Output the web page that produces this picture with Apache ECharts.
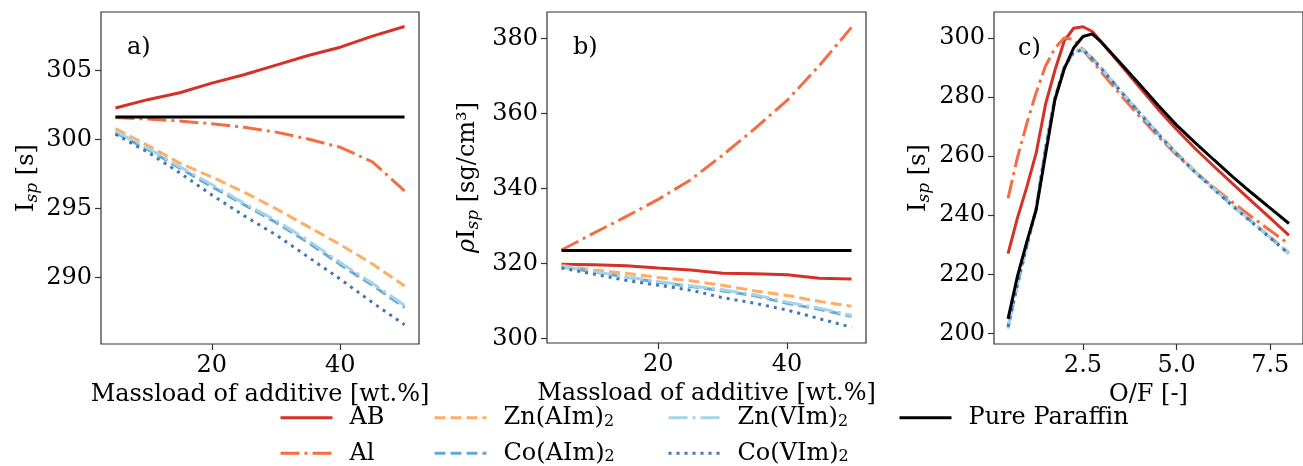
<!DOCTYPE html>
<html><head><meta charset="utf-8">
<script src="https://cdn.jsdelivr.net/npm/echarts@6/dist/echarts.min.js"></script>
<style>html,body{margin:0;padding:0;background:#fff}#c{width:1303px;height:466px}</style>
</head><body><div id="c"></div>
<script>
// ---------- data ----------
const massload = [5,10,15,20,25,30,35,40,45,50];
const ofRatio = [0.5,0.75,1.0,1.25,1.5,1.75,2.0,2.25,2.5,2.75,3.0,3.5,4.0,4.5,5.0,5.5,6.0,6.5,7.0,7.5,8.0];

const seriesNames = ['AB','Al','Zn(AIm)2','Co(AIm)2','Zn(VIm)2','Co(VIm)2','Pure Paraffin'];

// panel a: Isp vs massload
const ispAB     = [302.3,302.9,303.4,304.1,304.7,305.4,306.1,306.7,307.5,308.2];
const ispAl     = [301.6,301.5,301.35,301.15,300.9,300.55,300.05,299.45,298.4,296.3];
const ispZnAIm  = [300.8,299.6,298.3,297.3,296.2,295.0,293.7,292.4,291.0,289.4];
const ispCoAIm  = [300.5,299.3,297.95,296.6,295.3,294.0,292.55,290.95,289.45,287.85];
const ispZnVIm  = [300.6,299.4,298.05,296.75,295.4,294.15,292.7,291.1,289.6,288.0];
const ispCoVIm  = [300.4,299.1,297.6,296.0,294.5,293.1,291.5,289.9,288.2,286.6];
const ispPar    = [301.65,301.65,301.65,301.65,301.65,301.65,301.65,301.65,301.65,301.65];

// panel b: rho*Isp vs massload
const rhoAB     = [319.8,319.65,319.4,318.8,318.3,317.4,317.3,317.0,316.1,315.9];
const rhoAl     = [323.6,328.1,332.5,337.1,342.3,348.9,356.0,363.5,372.8,383.0];
const rhoZnAIm  = [319.5,318.3,317.4,316.3,315.4,314.2,312.7,311.5,309.9,308.6];
const rhoCoAIm  = [319.1,317.8,316.4,315.0,313.9,312.7,311.4,309.4,307.8,305.9];
const rhoZnVIm  = [319.2,317.9,316.5,315.2,314.1,313.0,311.7,309.7,308.1,306.2];
const rhoCoVIm  = [318.8,317.2,315.5,314.2,312.9,310.9,309.4,307.6,305.3,303.0];
const rhoPar    = [323.45,323.45,323.45,323.45,323.45,323.45,323.45,323.45,323.45,323.45];

// panel c: Isp vs O/F
const ofAB    = [227.0,239.0,249.5,261.0,277.5,289.0,299.0,303.3,303.8,302.2,298.5,291.0,283.5,276.0,269.0,262.5,256.5,250.6,244.8,239.0,233.2];
const ofAl    = [245.7,259.5,271.0,281.5,290.5,296.5,300.0,299.6,296.0,292.2,288.3,280.8,273.6,266.8,260.4,254.6,249.3,244.3,239.5,234.8,230.2];
const ofZnAIm = [202.3,216.8,229.8,242.3,262.8,279.8,290.3,295.5,296.3,293.3,289.8,282.3,275.1,267.9,261.1,254.9,249.1,243.5,238.1,232.7,227.3];
const ofCoAIm = [202.0,216.5,229.5,242.0,262.5,279.5,290.0,295.2,296.0,293.0,289.5,282.0,274.8,267.6,260.8,254.6,248.8,243.2,237.8,232.4,227.0];
const ofZnVIm = [201.6,216.3,229.4,242.0,262.6,279.6,290.1,295.3,296.1,293.1,289.6,282.1,274.9,267.7,260.9,254.7,248.9,243.3,237.9,232.5,227.0];
const ofCoVIm = [202.2,216.6,229.6,242.1,262.4,279.4,289.9,295.2,296.0,293.0,289.5,282.0,274.7,267.5,260.7,254.5,248.7,243.1,237.7,232.3,226.9];
const ofPar   = [204.9,219.3,231.0,241.8,260.5,279.0,289.5,296.6,300.5,301.4,298.5,291.5,284.5,277.3,270.5,264.5,258.7,253.0,247.6,242.4,237.2];

// tick labels
const aXTicks = [20,40];
const aYTicks = [290,295,300,305];
const bXTicks = [20,40];
const bYTicks = [300,320,340,360,380];
const cXTicks = [2.5,5.0,7.5];
const cYTicks = [200,220,240,260,280,300];

// ---------- styles ----------
const F = 'DejaVu Serif';
const colors = ['#d73027','#f46d43','#fdae61','#6aa6d6','#a3d4ea','#4575b4','#000000'];
const dashes = ['solid',[19,5,3,5],[11,5],[11,5],[19,5,3,5],[3,5],'solid'];
const panelA = [ispAB,ispAl,ispZnAIm,ispCoAIm,ispZnVIm,ispCoVIm,ispPar];
const panelB = [rhoAB,rhoAl,rhoZnAIm,rhoCoAIm,rhoZnVIm,rhoCoVIm,rhoPar];
const panelC = [ofAB,ofAl,ofZnAIm,ofCoAIm,ofZnVIm,ofCoVIm,ofPar];

const series = [];
function addPanel(xs, arrs, idx){
  arrs.forEach((arr,k)=>{
    series.push({
      name: seriesNames[k], type:'line', xAxisIndex:idx, yAxisIndex:idx,
      data: xs.map((x,i)=>[x,arr[i]]), symbol:'none', animation:false,
      color: colors[k],
      lineStyle:{color:colors[k], width:3, type:dashes[k]}, z: 2+k
    });
  });
}
addPanel(massload, panelA, 0);
addPanel(massload, panelB, 1);
addPanel(ofRatio, panelC, 2);

const txt = {fontFamily:F, fontSize:24, color:'#000'};
function xAx(idx, min, max, ticks, name, fmt){
  return {type:'value', gridIndex:idx, min, max,
    axisLine:{show:false}, splitLine:{show:false},
    axisTick:{show:true, length:6, lineStyle:{color:'#333',width:1.2}, customValues:ticks},
    axisLabel:Object.assign({margin:10, customValues:ticks, formatter: fmt || (v=>String(v))}, txt),
    name, nameLocation:'middle', nameGap:38, nameTextStyle:Object.assign({}, txt)};
}
const richY = {
  i:{fontFamily:F,fontSize:24,color:'#000',lineHeight:28},
  g:{fontFamily:F,fontSize:24,color:'#000',lineHeight:28,fontStyle:'italic'},
  sub:{fontFamily:F,fontSize:17,color:'#000',fontStyle:'italic',lineHeight:12,verticalAlign:'bottom'}
};
function yAx(idx, min, max, ticks, name, gap){
  return {type:'value', gridIndex:idx, min, max,
    axisLine:{show:false}, splitLine:{show:false},
    axisTick:{show:true, length:6, lineStyle:{color:'#333',width:1.2}, customValues:ticks},
    axisLabel:Object.assign({margin:9, customValues:ticks, formatter:v=>String(v)}, txt),
    name, nameLocation:'middle', nameGap:gap, nameTextStyle:{rich:richY}};
}
const gridStyle = {show:true, borderColor:'#333', borderWidth:1.2, backgroundColor:'transparent', containLabel:false};

const legendBase = {orient:'vertical', itemWidth:52, itemHeight:14, itemGap:11.6, padding:0,
  itemStyle:{opacity:0}, lineStyle:{width:3},
  formatter: n => n.endsWith('2') ? '{n|' + n.slice(0,-1) + '}{s|2}' : '{n|' + n + '}',
  textStyle:{fontFamily:F, fontSize:24, color:'#000', lineHeight:24, padding:[0,0,0,12],
    rich:{
      n:{fontFamily:F, fontSize:24, color:'#000', lineHeight:24},
      s:{fontFamily:F, fontSize:16, color:'#000', lineHeight:10, verticalAlign:'bottom'}
    }},
  top:405.7};

const option = {
  backgroundColor:'#fff',
  animation:false,
  title:[
    {text:'a)', left:127, top:36, padding:0, textStyle:{fontFamily:F,fontSize:24,fontWeight:'normal',color:'#000'}},
    {text:'b)', left:573, top:36, padding:0, textStyle:{fontFamily:F,fontSize:24,fontWeight:'normal',color:'#000'}},
    {text:'c)', left:1018, top:37, padding:0, textStyle:{fontFamily:F,fontSize:24,fontWeight:'normal',color:'#000'}}
  ],
  grid:[
    Object.assign({left:101, top:12, width:318, height:332}, gridStyle),
    Object.assign({left:547, top:12, width:319, height:331}, gridStyle),
    Object.assign({left:994, top:12, width:319, height:332}, gridStyle)
  ],
  xAxis:[
    xAx(0, 2.75, 52.25, aXTicks, 'Massload of additive [wt.%]'),
    xAx(1, 2.75, 52.25, bXTicks, 'Massload of additive [wt.%]'),
    xAx(2, 0.125, 8.375, cXTicks, 'O/F [-]', v=>v.toFixed(1))
  ],
  yAxis:[
    yAx(0, 285.2, 309.25, aYTicks, '{i|I}{sub|sp}{i| [s]}', 60),
    yAx(1, 298.8, 387.1, bYTicks, '{g|ρ}{i|I}{sub|sp}{i| [sg/cm³]}', 65),
    yAx(2, 196.4, 308.8, cYTicks, '{i|I}{sub|sp}{i| [s]}', 61)
  ],
  legend:[
    Object.assign({left:279, data:['AB','Al']}, legendBase),
    Object.assign({left:433, data:['Zn(AIm)2','Co(AIm)2']}, legendBase),
    Object.assign({left:667, data:['Zn(VIm)2','Co(VIm)2']}, legendBase),
    Object.assign({left:898, data:['Pure Paraffin']}, legendBase)
  ],
  series
};
const chart = echarts.init(document.getElementById('c'), null, {renderer:'canvas'});
chart.setOption(option);
</script>
</body></html>
